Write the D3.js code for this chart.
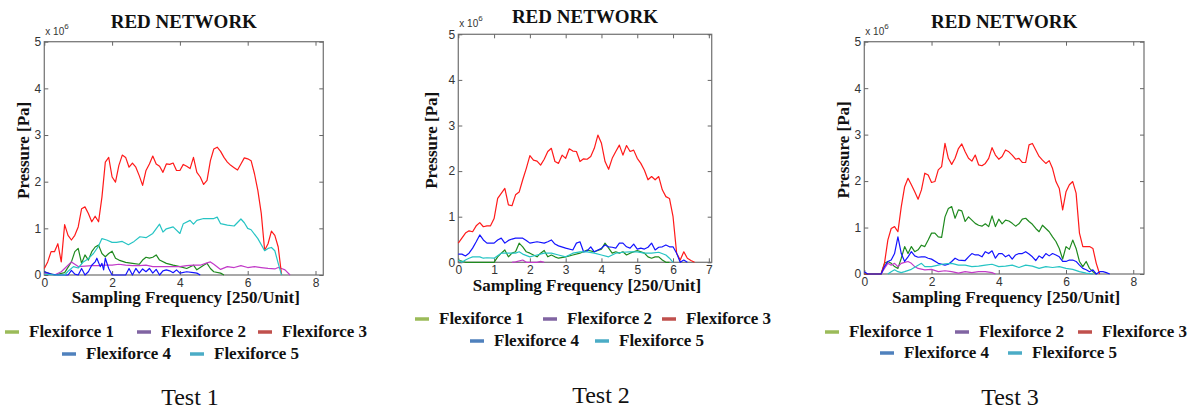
<!DOCTYPE html>
<html>
<head>
<meta charset="utf-8">
<script src="https://cdn.jsdelivr.net/npm/d3@7"></script>
<style>
  body { margin: 0; background: #fff; }
  svg { display: block; }
  .tick text { font-family: "Liberation Sans", Arial, sans-serif; font-size: 12px; fill: #333; }
  .tick line { stroke: #666; }
</style>
</head>
<body>
<div id="chart"></div>
<script>
// values are in 10^6 Pa, x in sampling units (250/unit)
const sensors = ["Flexiforce 1", "Flexiforce 2", "Flexiforce 3", "Flexiforce 4", "Flexiforce 5"];
const lineColors = ["#1f8a1f", "#c23bc8", "#ff1a1a", "#1414ff", "#26c4c4"];
const legendColors = ["#9bbb59", "#8064a2", "#c0504d", "#4f81bd", "#4bacc6"];
const yTicks = [0, 1, 2, 3, 4, 5];

// Test 1
const t1f1 = [[0,0.07],[0.3,0],[0.6,0.05],[0.8,0.28],[0.9,0.5],[1.0,0.57],[1.1,0.25],[1.2,0.43],[1.3,0.32],[1.4,0.5],[1.5,0.6],[1.6,0.64],[1.7,0.46],[1.8,0.39],[1.9,0.46],[2.0,0.51],[2.1,0.36],[2.2,0.32],[2.4,0.27],[2.6,0.25],[2.8,0.23],[2.9,0.32],[3.0,0.38],[3.1,0.36],[3.2,0.38],[3.3,0.43],[3.4,0.32],[3.6,0.25],[3.8,0.21],[4.0,0.18],[4.2,0.14],[4.4,0.21],[4.5,0.11],[4.7,0.21],[4.8,0.25],[4.9,0.14],[5.0,0.07],[5.2,0.04],[5.3,0]];
const t1f2 = [[0,0.04],[0.3,0],[0.5,0.07],[0.6,0.14],[0.8,0.28],[1.0,0.18],[1.2,0.19],[1.4,0.2],[1.6,0.2],[1.8,0.21],[2.0,0.21],[2.2,0.23],[2.4,0.21],[2.6,0.2],[2.8,0.2],[3.0,0.21],[3.2,0.18],[3.4,0.18],[3.6,0.18],[3.8,0.18],[4.0,0.18],[4.2,0.2],[4.4,0.21],[4.6,0.21],[4.8,0.26],[4.9,0.28],[5.0,0.23],[5.2,0.12],[5.4,0.18],[5.6,0.16],[5.8,0.2],[6.0,0.16],[6.2,0.18],[6.4,0.16],[6.6,0.14],[6.8,0.13],[6.9,0.16],[7.0,0.14],[7.1,0.11],[7.25,0]];
const t1f3 = [[0,0.14],[0.1,0.28],[0.2,0.5],[0.3,0.5],[0.4,0.67],[0.5,0.28],[0.6,1.08],[0.7,0.85],[0.8,0.75],[0.9,0.85],[1.0,1.03],[1.1,1.42],[1.2,1.46],[1.3,1.32],[1.4,1.14],[1.5,1.26],[1.6,1.14],[1.7,1.67],[1.8,2.42],[1.9,2.52],[2.0,2.1],[2.1,1.99],[2.2,2.35],[2.3,2.57],[2.4,2.52],[2.5,2.31],[2.6,2.4],[2.7,2.31],[2.8,2.13],[2.9,1.92],[3.0,2.24],[3.1,2.38],[3.2,2.55],[3.3,2.38],[3.4,2.33],[3.5,2.2],[3.6,2.38],[3.7,2.37],[3.8,2.4],[3.9,2.24],[4.0,2.24],[4.1,2.37],[4.2,2.33],[4.3,2.28],[4.4,2.52],[4.5,2.2],[4.6,2.1],[4.7,1.94],[4.8,2.03],[4.9,2.45],[5.0,2.7],[5.1,2.74],[5.2,2.65],[5.3,2.52],[5.4,2.42],[5.5,2.35],[5.6,2.3],[5.7,2.25],[5.8,2.38],[5.9,2.51],[6.0,2.49],[6.1,2.45],[6.2,2.17],[6.3,1.81],[6.4,1.32],[6.5,0.53],[6.6,0.67],[6.7,0.94],[6.8,0.85],[6.9,0.6],[7.0,0]];
const t1f4 = [[0,0.07],[0.2,0.02],[0.4,0],[0.7,0],[0.8,0.1],[0.9,0.02],[1.0,0],[1.1,0.14],[1.2,0],[1.3,0.07],[1.4,0.21],[1.5,0.28],[1.55,0.36],[1.65,0.18],[1.7,0.25],[1.75,0.11],[1.8,0.36],[1.9,0.14],[2.0,0],[2.4,0],[2.5,0.14],[2.6,0],[2.7,0.14],[2.8,0.04],[2.9,0.13],[3.0,0.07],[3.1,0.14],[3.2,0.04],[3.3,0.12],[3.4,0],[3.5,0.09],[3.6,0.11],[3.7,0.09],[3.8,0.05],[3.9,0.11],[4.0,0.04],[4.2,0.07],[4.4,0.05],[4.5,0.04],[4.6,0]];
const t1f5 = [[0,0.02],[0.3,0],[0.6,0],[0.7,0.08],[0.86,0.18],[1.0,0.15],[1.15,0.28],[1.3,0.35],[1.45,0.46],[1.6,0.62],[1.7,0.78],[1.84,0.75],[2.0,0.7],[2.13,0.7],[2.3,0.72],[2.48,0.65],[2.65,0.72],[2.82,0.82],[3.0,0.8],[3.2,0.89],[3.4,1.09],[3.5,0.92],[3.6,0.99],[3.8,1.03],[4.0,0.89],[4.1,1.1],[4.3,1.17],[4.4,1.09],[4.5,1.17],[4.7,1.21],[5.0,1.21],[5.1,1.24],[5.2,1.1],[5.4,1.07],[5.6,1.05],[5.8,1.2],[5.9,1.12],[6.0,1.0],[6.1,0.97],[6.3,0.78],[6.5,0.52],[6.6,0.57],[6.7,0.59],[6.8,0.52],[6.9,0.25],[7.0,0]];

// Test 2
const t2f1 = [[0,0.05],[0.2,0],[1.0,0],[1.1,0.12],[1.2,0.2],[1.3,0.27],[1.4,0.12],[1.5,0.2],[1.6,0.23],[1.7,0.42],[1.8,0.34],[1.9,0.23],[2.0,0.2],[2.2,0.12],[2.3,0.2],[2.4,0.26],[2.5,0.12],[2.6,0.16],[2.7,0.12],[2.8,0.09],[3.0,0.12],[3.2,0.16],[3.4,0.2],[3.6,0.27],[3.8,0.23],[4.0,0.29],[4.1,0.42],[4.2,0.31],[4.3,0.2],[4.4,0.23],[4.5,0.2],[4.6,0.23],[4.7,0.16],[4.8,0.2],[5.0,0.26],[5.2,0.2],[5.3,0.12],[5.4,0.09],[5.5,0.12],[5.6,0.12],[5.7,0.05],[5.8,0],[5.9,0]];
const t2f2 = [[1.5,0],[1.6,0.01],[1.8,0.05],[1.9,0],[2.2,0],[2.3,0.02],[2.4,0]];
const t2f3 = [[0,0.42],[0.1,0.53],[0.2,0.64],[0.3,0.69],[0.4,0.67],[0.5,0.8],[0.6,0.87],[0.7,0.78],[0.8,0.8],[0.9,0.8],[1.0,0.96],[1.1,1.4],[1.2,1.51],[1.3,1.62],[1.4,1.26],[1.5,1.24],[1.6,1.48],[1.7,1.54],[1.8,1.81],[1.9,2.06],[2.0,2.34],[2.1,2.24],[2.2,2.22],[2.3,2.13],[2.4,2.26],[2.5,2.43],[2.6,2.5],[2.7,2.21],[2.8,2.17],[2.9,2.35],[3.0,2.28],[3.1,2.49],[3.2,2.44],[3.3,2.43],[3.4,2.21],[3.5,2.27],[3.6,2.26],[3.7,2.32],[3.8,2.5],[3.9,2.79],[4.0,2.61],[4.1,2.21],[4.2,2.04],[4.3,2.28],[4.4,2.43],[4.5,2.57],[4.6,2.35],[4.7,2.56],[4.8,2.43],[4.9,2.46],[5.0,2.28],[5.1,2.17],[5.2,2.02],[5.3,1.81],[5.4,1.88],[5.5,1.81],[5.6,1.88],[5.7,1.59],[5.8,1.44],[5.9,1.4],[6.0,1.0],[6.1,0.2],[6.2,0.05],[6.3,0.23],[6.4,0.09],[6.5,0.04],[6.6,0]];
const t2f4 = [[0,0.18],[0.1,0.18],[0.2,0.14],[0.3,0.2],[0.4,0.31],[0.5,0.45],[0.6,0.6],[0.7,0.49],[0.8,0.42],[0.9,0.42],[1.0,0.42],[1.1,0.49],[1.2,0.53],[1.3,0.42],[1.4,0.48],[1.5,0.51],[1.6,0.53],[1.7,0.53],[1.8,0.53],[1.9,0.48],[2.0,0.42],[2.2,0.45],[2.4,0.42],[2.5,0.45],[2.6,0.49],[2.7,0.4],[2.8,0.36],[3.0,0.31],[3.2,0.27],[3.3,0.42],[3.4,0.45],[3.5,0.23],[3.6,0.25],[3.7,0.34],[3.8,0.23],[4.0,0.31],[4.1,0.38],[4.2,0.34],[4.3,0.33],[4.4,0.31],[4.5,0.42],[4.6,0.42],[4.7,0.34],[4.8,0.31],[4.9,0.4],[5.0,0.29],[5.1,0.31],[5.2,0.29],[5.3,0.33],[5.4,0.42],[5.5,0.27],[5.6,0.33],[5.7,0.34],[5.8,0.38],[5.9,0.34],[6.0,0.34],[6.1,0.2],[6.2,0],[6.3,0.05],[6.4,0]];
const t2f5 = [[0,0.05],[0.1,0],[0.2,0.05],[0.3,0.09],[0.4,0.12],[0.6,0.12],[0.7,0.09],[0.8,0.1],[1.0,0.09],[1.2,0.2],[1.4,0.2],[1.6,0.2],[1.7,0.23],[1.8,0.18],[2.0,0.12],[2.2,0.16],[2.4,0.2],[2.6,0.2],[2.8,0.16],[3.0,0.12],[3.2,0.2],[3.4,0.23],[3.6,0.23],[3.8,0.2],[4.0,0.16],[4.2,0.12],[4.4,0.2],[4.6,0.22],[4.8,0.23],[5.0,0.23],[5.2,0.2],[5.4,0.2],[5.6,0.22],[5.8,0.16],[5.9,0.09],[6.0,0]];

// Test 3
const t3f1 = [[0,0],[0.5,0],[0.6,0.23],[0.7,0.27],[0.8,0.23],[0.9,0.16],[1.0,0.12],[1.1,0.34],[1.2,0.59],[1.3,0.44],[1.4,0.59],[1.5,0.48],[1.6,0.52],[1.7,0.62],[1.8,0.59],[1.9,0.73],[2.0,0.88],[2.1,0.88],[2.2,0.8],[2.3,0.79],[2.4,1.23],[2.5,1.41],[2.6,1.45],[2.7,1.2],[2.8,1.38],[2.9,1.36],[3.0,1.13],[3.1,1.23],[3.2,1.16],[3.3,1.09],[3.4,1.05],[3.5,1.03],[3.6,1.08],[3.7,1.02],[3.8,1.25],[3.9,1.02],[4.0,1.18],[4.1,1.08],[4.2,1.16],[4.3,1.14],[4.4,1.09],[4.5,1.03],[4.6,1.08],[4.7,1.18],[4.8,1.2],[4.9,1.13],[5.0,1.07],[5.1,0.98],[5.2,0.91],[5.3,1.05],[5.4,0.98],[5.5,0.91],[5.6,0.8],[5.7,0.7],[5.8,0.55],[5.9,0.32],[6.0,0.59],[6.1,0.53],[6.2,0.73],[6.3,0.55],[6.4,0.27],[6.5,0.16],[6.6,0.27],[6.7,0.12],[6.8,0.05],[6.9,0]];
const t3f2 = [[0.5,0],[0.6,0.12],[0.7,0.23],[0.8,0.19],[0.9,0.23],[1.0,0.16],[1.1,0.23],[1.2,0.25],[1.3,0.27],[1.4,0.23],[1.5,0.16],[1.6,0.12],[1.8,0.09],[2.0,0.1],[2.2,0.05],[2.4,0.07],[2.6,0.05],[2.8,0.02],[3.0,0.05],[3.2,0.03],[3.4,0.05],[3.6,0.05],[3.8,0.03],[3.9,0]];
const t3f3 = [[0,0],[0.5,0],[0.6,0.23],[0.7,0.73],[0.8,0.98],[0.9,1.02],[1.0,0.91],[1.1,1.45],[1.2,1.88],[1.3,2.06],[1.4,1.92],[1.5,1.77],[1.6,1.61],[1.7,1.81],[1.8,2.17],[1.9,2.13],[2.0,1.97],[2.1,1.99],[2.2,2.24],[2.3,2.31],[2.4,2.81],[2.5,2.49],[2.6,2.36],[2.7,2.49],[2.8,2.7],[2.9,2.8],[3.0,2.63],[3.1,2.49],[3.2,2.43],[3.3,2.56],[3.4,2.35],[3.5,2.33],[3.6,2.38],[3.7,2.49],[3.8,2.72],[3.9,2.56],[4.0,2.47],[4.1,2.53],[4.2,2.67],[4.3,2.63],[4.4,2.56],[4.5,2.47],[4.6,2.49],[4.7,2.4],[4.8,2.4],[4.9,2.78],[5.0,2.81],[5.1,2.67],[5.2,2.53],[5.3,2.45],[5.4,2.38],[5.5,2.44],[5.6,2.27],[5.7,1.99],[5.8,1.84],[5.9,1.38],[6.0,1.77],[6.1,1.92],[6.2,1.99],[6.3,1.74],[6.4,0.88],[6.5,0.59],[6.6,0.59],[6.7,0.59],[6.8,0.55],[6.9,0.23],[7.0,0]];
const t3f4 = [[0,0.05],[0.1,0],[0.5,0],[0.6,0.16],[0.7,0.27],[0.8,0.3],[0.9,0.44],[1.0,0.8],[1.1,0.44],[1.2,0.27],[1.3,0.37],[1.4,0.48],[1.5,0.39],[1.6,0.36],[1.7,0.37],[1.8,0.37],[1.9,0.34],[2.0,0.32],[2.2,0.23],[2.4,0.19],[2.5,0.21],[2.6,0.27],[2.7,0.34],[2.8,0.3],[3.0,0.29],[3.1,0.37],[3.2,0.44],[3.3,0.41],[3.4,0.41],[3.5,0.37],[3.6,0.48],[3.7,0.44],[3.8,0.5],[3.9,0.34],[4.0,0.44],[4.1,0.44],[4.2,0.37],[4.3,0.41],[4.4,0.32],[4.5,0.41],[4.6,0.44],[4.7,0.44],[4.8,0.48],[4.9,0.43],[5.0,0.37],[5.1,0.29],[5.2,0.39],[5.3,0.34],[5.4,0.44],[5.5,0.39],[5.6,0.44],[5.7,0.41],[5.8,0.37],[5.9,0.27],[6.0,0.27],[6.1,0.3],[6.2,0.3],[6.3,0.27],[6.4,0.19],[6.5,0.12],[6.6,0.09],[6.7,0.05],[6.8,0.09],[6.9,0],[7.0,0.05],[7.1,0.05],[7.2,0.03],[7.3,0]];
const t3f5 = [[0.7,0],[0.8,0.05],[0.9,0.09],[1.0,0.05],[1.1,0.03],[1.2,0.05],[1.4,0.1],[1.6,0.19],[1.7,0.23],[1.8,0.16],[2.0,0.16],[2.2,0.19],[2.4,0.22],[2.6,0.23],[2.8,0.19],[3.0,0.19],[3.2,0.16],[3.4,0.17],[3.6,0.19],[3.8,0.21],[4.0,0.16],[4.2,0.17],[4.4,0.19],[4.6,0.14],[4.8,0.19],[5.0,0.17],[5.2,0.12],[5.4,0.16],[5.6,0.14],[5.8,0.16],[6.0,0.12],[6.2,0.1],[6.4,0.05],[6.6,0.02],[6.8,0]];

const tests = [
  { label: "Test 1", series: [t1f1, t1f2, t1f3, t1f4, t1f5], xTicks: [0, 2, 4, 6, 8], xMax: 8.23 },
  { label: "Test 2", series: [t2f1, t2f2, t2f3, t2f4, t2f5], xTicks: [0, 1, 2, 3, 4, 5, 6, 7], xMax: 7.08 },
  { label: "Test 3", series: [t3f1, t3f2, t3f3, t3f4, t3f5], xTicks: [0, 2, 4, 6, 8], xMax: 8.32 }
];

// panel placement in page pixels
const layout = [
  { left: 44.3, right: 323.3, top: 41.7, bottom: 275, titleY: 28, xLabelY: 303, yLabelX: 29, legendX: [5, 137, 258, 62, 190], legendY: [332, 354], testX: 190, testY: 405 },
  { left: 458.3, right: 711.7, top: 34.3, bottom: 262.3, titleY: 22.5, xLabelY: 291, yLabelX: 437, legendX: [415, 543, 662, 470, 595], legendY: [319, 341], testX: 601, testY: 403 },
  { left: 864.3, right: 1144, top: 41.7, bottom: 274, titleY: 28, xLabelY: 303, yLabelX: 849, legendX: [825, 955, 1078, 880, 1008], legendY: [332, 353], testX: 1010, testY: 405 }
];

const svg = d3.select("#chart").append("svg")
  .attr("width", 1193)
  .attr("height", 411);

const serif = "'Liberation Serif', 'Times New Roman', serif";

tests.forEach((t, i) => {
  const L = layout[i];
  const g = svg.append("g");

  const x = d3.scaleLinear().domain([0, t.xMax]).range([L.left, L.right]);
  const y = d3.scaleLinear().domain([0, 5]).range([L.bottom, L.top]);

  // box
  g.append("rect")
    .attr("x", L.left).attr("y", L.top)
    .attr("width", L.right - L.left).attr("height", L.bottom - L.top)
    .attr("fill", "none")
    .attr("stroke", "#7a7a7a")
    .attr("stroke-width", 1.3);

  // axes with inward ticks
  g.append("g")
    .attr("transform", `translate(0,${L.bottom})`)
    .call(d3.axisBottom(x).tickValues(t.xTicks).tickFormat(d3.format("d")).tickSizeInner(-4).tickSizeOuter(0).tickPadding(3))
    .call(a => a.select(".domain").remove());
  g.append("g")
    .attr("transform", `translate(0,${L.top})`)
    .call(d3.axisTop(x).tickValues(t.xTicks).tickSizeInner(-4).tickSizeOuter(0).tickFormat(""))
    .call(a => a.select(".domain").remove());
  g.append("g")
    .attr("transform", `translate(${L.left},0)`)
    .call(d3.axisLeft(y).tickValues(yTicks).tickFormat(d3.format("d")).tickSizeInner(-4).tickSizeOuter(0).tickPadding(3))
    .call(a => a.select(".domain").remove());
  g.append("g")
    .attr("transform", `translate(${L.right},0)`)
    .call(d3.axisRight(y).tickValues(yTicks).tickSizeInner(-4).tickSizeOuter(0).tickFormat(""))
    .call(a => a.select(".domain").remove());

  // exponent marker
  const ex = g.append("text")
    .attr("x", L.left + 1).attr("y", L.top - 7)
    .attr("font-family", "'Liberation Sans', Arial, sans-serif")
    .attr("font-size", 10).attr("fill", "#333");
  ex.append("tspan").text("x 10");
  ex.append("tspan").attr("dy", -6).attr("font-size", 8).text("6");

  // lines
  const line = d3.line()
    .x(d => x(d[0]))
    .y(d => y(d[1]));

  t.series.forEach((s, k) => {
    g.append("path")
      .datum(s)
      .attr("fill", "none")
      .attr("stroke", lineColors[k])
      .attr("stroke-width", 1.2)
      .attr("stroke-linejoin", "round")
      .attr("d", line);
  });

  // title and axis labels
  g.append("text")
    .attr("x", (L.left + L.right) / 2).attr("y", L.titleY)
    .attr("text-anchor", "middle")
    .attr("font-family", serif).attr("font-weight", "bold").attr("font-size", 19)
    .attr("fill", "#111")
    .text("RED NETWORK");

  g.append("text")
    .attr("x", (L.left + L.right) / 2 + 2).attr("y", L.xLabelY)
    .attr("text-anchor", "middle")
    .attr("font-family", serif).attr("font-weight", "bold").attr("font-size", 17)
    .attr("fill", "#111")
    .text("Sampling Frequency [250/Unit]");

  g.append("text")
    .attr("transform", `translate(${L.yLabelX},${(L.top + L.bottom) / 2 - 8}) rotate(-90)`)
    .attr("text-anchor", "middle")
    .attr("font-family", serif).attr("font-weight", "bold").attr("font-size", 17)
    .attr("fill", "#111")
    .text("Pressure [Pa]");

  // legend
  sensors.forEach((name, k) => {
    const lx = L.legendX[k];
    const ly = k < 3 ? L.legendY[0] : L.legendY[1];
    g.append("line")
      .attr("x1", lx).attr("x2", lx + 14)
      .attr("y1", ly).attr("y2", ly)
      .attr("stroke", legendColors[k])
      .attr("stroke-width", 3.5);
    g.append("text")
      .attr("x", lx + 24).attr("y", ly + 5)
      .attr("font-family", serif).attr("font-weight", "bold").attr("font-size", 17)
      .attr("fill", "#111")
      .text(name);
  });

  g.append("text")
    .attr("x", L.testX).attr("y", L.testY)
    .attr("text-anchor", "middle")
    .attr("font-family", serif).attr("font-size", 24)
    .attr("fill", "#111")
    .text(t.label);
});
</script>
</body>
</html>
